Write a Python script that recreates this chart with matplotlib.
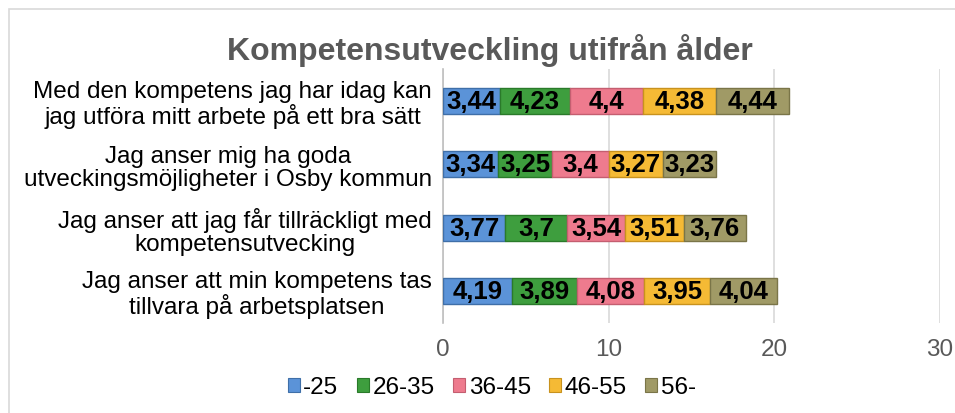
import numpy as np
import matplotlib
matplotlib.use('Agg')
import matplotlib.pyplot as plt
from matplotlib.patches import Rectangle, Patch

plt.rcParams['font.family'] = ['Liberation Sans', 'DejaVu Sans']

# Data (top to bottom as shown)
questions = [
    'Med den kompetens jag har idag kan\njag utföra mitt arbete på ett bra sätt',
    'Jag anser mig ha goda\nutveckingsmöjligheter i Osby kommun',
    'Jag anser att jag får tillräckligt med\nkompetensutvecking',
    'Jag anser att min kompetens tas\ntillvara på arbetsplatsen',
]
age_groups = ['-25', '26-35', '36-45', '46-55', '56-']
v_25 = [3.44, 3.34, 3.77, 4.19]
v_26_35 = [4.23, 3.25, 3.70, 3.89]
v_36_45 = [4.40, 3.40, 3.54, 4.08]
v_46_55 = [4.38, 3.27, 3.51, 3.95]
v_56 = [4.44, 3.23, 3.76, 4.04]
label_text = [
    ['3,44', '3,34', '3,77', '4,19'],
    ['4,23', '3,25', '3,7', '3,89'],
    ['4,4', '3,4', '3,54', '4,08'],
    ['4,38', '3,27', '3,51', '3,95'],
    ['4,44', '3,23', '3,76', '4,04'],
]
series = [v_25, v_26_35, v_36_45, v_46_55, v_56]

colors = ['#5B93D8', '#3E9E3E', '#EE7B8E', '#F5BA35', '#A09A66']
edges = ['#3F6FA8', '#2A7A2A', '#C45E70', '#C8921E', '#7A7548']

fig = plt.figure(figsize=(9.55, 4.14), dpi=100)
ax = fig.add_axes([0.4639, 0.2174, 0.5204, 0.6135])

# light chart border (top and left visible)
fig.patches.append(Rectangle((8.5 / 955, -0.1), 1.2, 1 - 9.5 / 414 + 0.1,
                             transform=fig.transFigure, fill=False,
                             edgecolor='#D9D9D9', linewidth=1.2))

y = np.arange(len(questions))[::-1]
left = np.zeros(len(questions))
for i, vals in enumerate(series):
    vals = np.array(vals)
    ax.barh(y, vals, left=left, height=0.41, color=colors[i],
            edgecolor=edges[i], linewidth=1.0, label=age_groups[i], zorder=3)
    for j in range(len(vals)):
        ax.text(left[j] + vals[j] / 2, y[j], label_text[i][j], ha='center',
                va='center', fontsize=18.5, fontweight='bold', color='black',
                zorder=4)
    left += vals

ax.set_xlim(0, 30)
ax.set_ylim(-0.5, 3.5)
ax.set_xticks([0, 10, 20, 30])
ax.tick_params(axis='x', length=0, labelsize=17.5, labelcolor='#595959', pad=11)
ax.set_yticks(y)
ax.set_yticklabels(questions, fontsize=17.5, multialignment='center',
                   linespacing=1.05)
ax.tick_params(axis='y', length=0, pad=8)
ax.grid(axis='x', color='#D9D9D9', linewidth=1.2, zorder=0)
for sp in ['top', 'right', 'bottom']:
    ax.spines[sp].set_visible(False)
ax.spines['left'].set_color('#BFBFBF')
ax.spines['left'].set_linewidth(1.2)

fig.text(0.513, 0.879, 'Kompetensutveckling utifrån ålder', ha='center',
         va='center', fontsize=23, fontweight='bold', color='#595959')

handles = [Patch(facecolor=colors[i], edgecolor=edges[i], linewidth=0.8)
           for i in range(len(age_groups))]
fig.legend(handles, age_groups, loc='center', bbox_to_anchor=(0.515, 0.062),
           ncol=5, frameon=False, fontsize=17.5, handlelength=0.5,
           handleheight=0.5, handletextpad=0.15, columnspacing=0.75)

fig.savefig('out.png', dpi=100)
